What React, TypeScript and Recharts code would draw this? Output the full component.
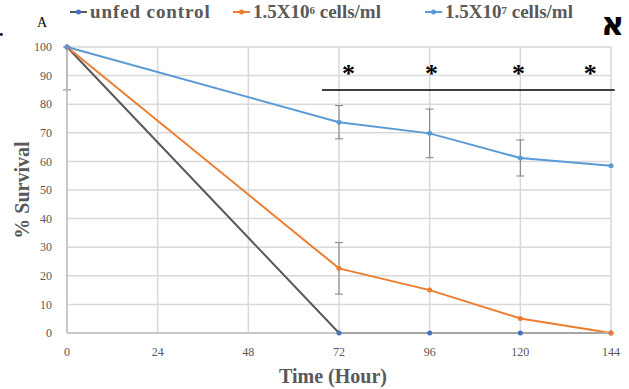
import { CartesianGrid, ErrorBar, Line, LineChart, ReferenceDot, ReferenceLine, XAxis, YAxis } from 'recharts'

const hours = [0, 72, 96, 120, 144]
const unfedControl = [100, 0, 0, 0, 0]
const lowDose = [100, 22.6, 15, 5.1, 0]
const highDose = [100, 73.7, 69.8, 61.2, 58.5]
const unfedErr: (number[] | null)[] = [[15, 0], null, null, null, null]
const lowDoseErr = [null, 9, null, null, null]
const highDoseErr = [null, 5.8, 8.5, 6.3, null]

const xTicks = [0, 24, 48, 72, 96, 120, 144]
const yTicks = [0, 10, 20, 30, 40, 50, 60, 70, 80, 90, 100]

// significance bracket and asterisks
const sigLineX = [67.5, 145]
const sigLineY = 85
const sigStarHours = [74.5, 96.5, 119.5, 138.5]
const sigStarY = 92.5

const data = hours.map((h, i) => ({
  hour: h,
  unfed: unfedControl[i],
  low: lowDose[i],
  high: highDose[i],
  unfedErr: unfedErr[i],
  lowErr: lowDoseErr[i],
  highErr: highDoseErr[i],
}))

const serif = '"Liberation Serif", "Times New Roman", serif'
const axisText = '#595959'

const legendItems = [
  { label: 'unfed control', sup: '', tail: '', line: '#595959', dot: '#4472C4', left: 70, spacing: 0.9 },
  { label: '1.5X10', sup: '6', tail: ' cells/ml', line: '#ED7D31', dot: '#ED7D31', left: 233, spacing: 0 },
  { label: '1.5X10', sup: '7', tail: ' cells/ml', line: '#5B9BD5', dot: '#5B9BD5', left: 425, spacing: 0 },
]

export default function App() {
  return (
    <div style={{ position: 'absolute', left: 0, top: 0, width: 629, height: 389, background: '#fff', overflow: 'hidden' }}>
      <div style={{ position: 'absolute', left: -1, top: 21, fontFamily: serif, fontSize: 18, fontWeight: 700, color: '#000', lineHeight: '18px' }}>.</div>
      <div style={{ position: 'absolute', left: 37, top: 16, fontFamily: serif, fontSize: 14, color: '#000', lineHeight: '14px' }}>A</div>
      <div style={{ position: 'absolute', left: 601, top: 5, fontFamily: '"DejaVu Sans", sans-serif', fontSize: 32, fontWeight: 700, color: '#000', lineHeight: '38px' }}>א</div>
      {legendItems.map((it) => (
        <div
          key={it.label + it.sup}
          style={{ position: 'absolute', left: it.left, top: 0, display: 'flex', alignItems: 'center', fontFamily: serif, fontWeight: 700, fontSize: 19, color: axisText, lineHeight: '24px', whiteSpace: 'nowrap' }}
        >
          <svg width={17} height={8} style={{ marginRight: 3 }}>
            <line x1={0} y1={4} x2={17} y2={4} stroke={it.line} strokeWidth={2} />
            <circle cx={8.5} cy={4} r={2.5} fill={it.dot} />
          </svg>
          <span style={{ letterSpacing: it.spacing }}>
            {it.label}
            {it.sup && <sup style={{ fontSize: 11, verticalAlign: 'top', lineHeight: '20px' }}>{it.sup}</sup>}
            {it.tail}
          </span>
        </div>
      ))}
      <LineChart width={629} height={389} data={data} margin={{ top: 47, right: 18, left: 0, bottom: 0 }}>
        <CartesianGrid stroke="#d9d9d9" strokeWidth={1.5} />
        <XAxis
          dataKey="hour"
          type="number"
          domain={[0, 144]}
          ticks={xTicks}
          height={56}
          axisLine={{ stroke: '#bfbfbf', strokeWidth: 1.5 }}
          tickLine={false}
          tickMargin={8}
          tick={{ fontSize: 12, fontFamily: serif, fill: axisText }}
          label={{
            content: ({ viewBox }: any) => (
              <text x={333} y={viewBox.y + 50} textAnchor="middle" fontFamily={serif} fontWeight={700} fontSize={20} fill={axisText}>
                Time (Hour)
              </text>
            ),
          }}
        />
        <YAxis
          type="number"
          domain={[0, 100]}
          ticks={yTicks}
          width={67}
          axisLine={{ stroke: '#bfbfbf', strokeWidth: 1.5 }}
          tickLine={false}
          tickMargin={9}
          tick={{ fontSize: 12, fontFamily: serif, fill: axisText }}
          label={{
            content: () => (
              <text
                x={22}
                y={190}
                transform="rotate(-90 22 190)"
                textAnchor="middle"
                dominantBaseline="central"
                fontFamily={serif}
                fontWeight={700}
                fontSize={20}
                fill={axisText}
              >
                % Survival
              </text>
            ),
          }}
        />
        <Line dataKey="unfed" stroke="#595959" strokeWidth={2} dot={{ r: 2.5, fill: '#4472C4', stroke: '#4472C4', strokeWidth: 0 }} isAnimationActive={false}>
          <ErrorBar dataKey="unfedErr" width={4} stroke="#808080" strokeWidth={1} direction="y" />
        </Line>
        <Line dataKey="low" stroke="#ED7D31" strokeWidth={2} dot={{ r: 2.5, fill: '#ED7D31', stroke: '#ED7D31', strokeWidth: 0 }} isAnimationActive={false}>
          <ErrorBar dataKey="lowErr" width={4} stroke="#808080" strokeWidth={1} direction="y" />
        </Line>
        <Line dataKey="high" stroke="#5B9BD5" strokeWidth={2} dot={{ r: 2.5, fill: '#5B9BD5', stroke: '#5B9BD5', strokeWidth: 0 }} isAnimationActive={false}>
          <ErrorBar dataKey="highErr" width={4} stroke="#808080" strokeWidth={1} direction="y" />
        </Line>
        <ReferenceLine
          segment={[{ x: sigLineX[0], y: sigLineY }, { x: sigLineX[1], y: sigLineY }]}
          stroke="#000"
          strokeWidth={1.5}
          ifOverflow="visible"
        />
        {sigStarHours.map((h) => (
          <ReferenceDot
            key={h}
            x={h}
            y={sigStarY}
            r={0}
            ifOverflow="visible"
            label={{
              content: ({ viewBox }: any) => (
                <text x={viewBox.x} y={viewBox.y + 14} textAnchor="middle" fontFamily={serif} fontWeight={700} fontSize={26} fill="#000">
                  *
                </text>
              ),
            }}
          />
        ))}
      </LineChart>
    </div>
  )
}
